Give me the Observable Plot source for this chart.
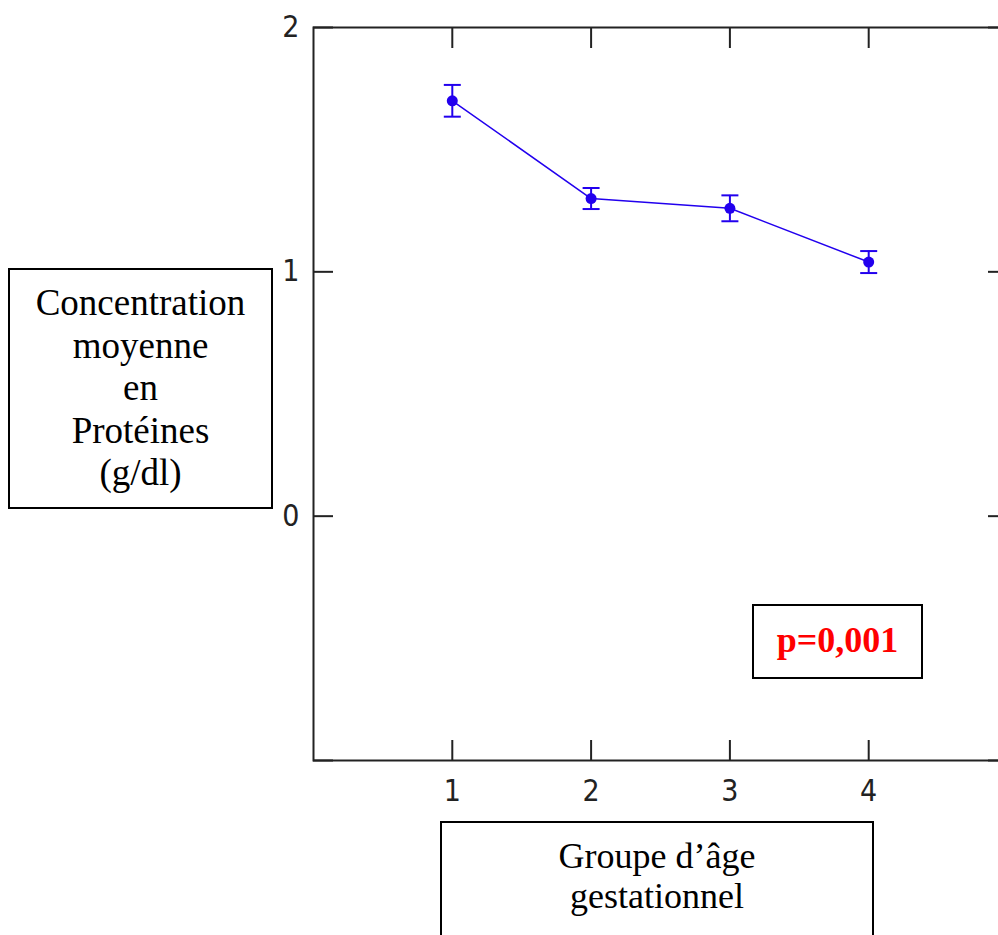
<!DOCTYPE html>
<html>
<head>
<meta charset="utf-8">
<script src="https://cdn.jsdelivr.net/npm/d3@7"></script>
<script src="https://cdn.jsdelivr.net/npm/@observablehq/plot@0.6"></script>
<style>
  html, body { margin: 0; padding: 0; overflow: hidden; background: white; }
  #wrap { position: relative; width: 998px; height: 935px; overflow: hidden; }
  #wrap svg { display: block; max-width: none; overflow: hidden; }
  .box { position: absolute; box-sizing: border-box; border: 2px solid #000; background: white;
         font-family: "Liberation Serif", "Times New Roman", serif; color: #000; text-align: center; }
</style>
</head>
<body>
<div id="wrap">
  <div id="chart"></div>
  <div class="box" id="ybox" style="left:8px; top:268px; width:265px; height:241px; font-size:37px; line-height:42.5px; padding-top:12px;">Concentration<br>moyenne<br>en<br>Protéines<br>(g/dl)</div>
  <div class="box" id="xbox" style="left:440px; top:821px; width:434px; height:140px; font-size:36px; line-height:40px; padding-top:13px;">Groupe d’âge<br>gestationnel</div>
  <div class="box" id="pbox" style="left:752px; top:604px; width:171px; height:75px; font-size:36px; line-height:68px; font-weight:bold; color:#ff0000;">p=0,001</div>
</div>
<script>
const groups = [1, 2, 3, 4];
const means = [1.70, 1.30, 1.26, 1.04];
const errors = [0.065, 0.043, 0.053, 0.045];
const xTicks = [1, 2, 3, 4];
const yTickMarks = [-1, 0, 1, 2];
const yTickLabels = [0, 1, 2];

const blue = "#2200ee";
const data = groups.map((g, i) => ({group: g, mean: means[i], lo: means[i] - errors[i], hi: means[i] + errors[i]}));

const capSymbol = {
  draw(context, size) {
    const r = Math.sqrt(size / Math.PI);
    context.moveTo(-r, 0);
    context.lineTo(r, 0);
  }
};

const tickFont = '"Liberation Sans Narrow", "DejaVu Sans Condensed", "Liberation Sans", sans-serif';

const chart = Plot.plot({
  width: 998,
  height: 935,
  marginLeft: 313,
  marginRight: -9,
  marginTop: 27,
  marginBottom: 175,
  x: {domain: [0, 5]},
  y: {domain: [-1, 2]},
  style: {fontFamily: tickFont, fontSize: "30px", color: "#222", background: "white"},
  marks: [
    Plot.frame({stroke: "#222", strokeWidth: 2}),
    Plot.axisX({ticks: xTicks, anchor: "bottom", tickSize: 20, dy: -20, tickFormat: () => "", strokeWidth: 2, label: null}),
    Plot.axisX({ticks: xTicks, anchor: "top", tickSize: 20, dy: 20, tickFormat: () => "", strokeWidth: 2, label: null}),
    Plot.axisX({ticks: xTicks, anchor: "bottom", tickSize: 0, tickPadding: 19, tickFormat: "d", label: null}),
    Plot.axisY({ticks: yTickMarks, anchor: "left", tickSize: 20, dx: 20, tickFormat: () => "", strokeWidth: 2, label: null}),
    Plot.axisY({ticks: yTickMarks, anchor: "right", tickSize: 20, dx: -20, tickFormat: () => "", strokeWidth: 2, label: null}),
    Plot.axisY({ticks: yTickLabels, anchor: "left", tickSize: 0, tickPadding: 14, tickFormat: "d", label: null}),
    Plot.line(data, {x: "group", y: "mean", stroke: blue, strokeWidth: 1.5}),
    Plot.ruleX(data, {x: "group", y1: "lo", y2: "hi", stroke: blue, strokeWidth: 2}),
    Plot.dot(data, {x: "group", y: "hi", symbol: capSymbol, r: 8.5, stroke: blue, strokeWidth: 2, fill: "none"}),
    Plot.dot(data, {x: "group", y: "lo", symbol: capSymbol, r: 8.5, stroke: blue, strokeWidth: 2, fill: "none"}),
    Plot.dot(data, {x: "group", y: "mean", r: 5.5, fill: blue, stroke: "none"})
  ]
});
document.getElementById("chart").appendChild(chart);
</script>
</body>
</html>
